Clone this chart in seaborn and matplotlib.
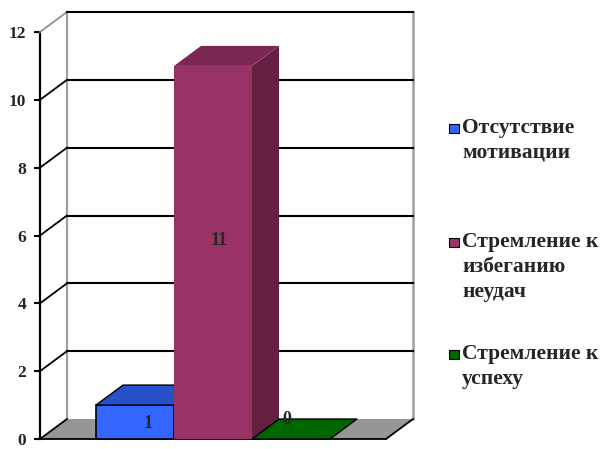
import matplotlib
matplotlib.use("Agg")
import matplotlib.pyplot as plt
from matplotlib.patches import Polygon, Rectangle
from matplotlib.lines import Line2D
import seaborn as sns
import pandas as pd
import numpy as np

# ---- data -------------------------------------------------------------
series = ["Отсутствие\nмотивации",
          "Стремление к\nизбеганию\nнеудач",
          "Стремление к\nуспеху"]
values = [1, 11, 0]
value_labels = ["1", "11", "0"]
front_colors = ["#3366FF", "#993366", "#006600"]
top_colors = ["#2850C8", "#7A2852", "#006600"]
side_colors = ["#1F3FA0", "#66203F", "#004400"]
y_ticks = [0, 2, 4, 6, 8, 10, 12]

# ---- layout -----------------------------------------------------------
W, H, DPI = 600, 449, 100
DEPTH = (27, 20)            # depth offset of the 3-D box, pixels
FONT = ["Liberation Serif", "DejaVu Serif"]

sns.set_theme(style="white")
plt.rcParams["font.family"] = FONT
plt.rcParams["font.weight"] = "bold"

fig = plt.figure(figsize=(W / DPI, H / DPI), dpi=DPI)
ax = fig.add_axes([40 / W, 10 / H, 346 / W, 407 / H])
ax.patch.set_alpha(0)

df = pd.DataFrame({"grp": [""] * len(series), "series": series, "value": values})
sns.barplot(data=df, x="grp", y="value", hue="series", hue_order=series,
            palette=front_colors, width=0.8, gap=0, dodge=True,
            saturation=1, legend=False, ax=ax, zorder=5)

ax.set_xlim(-0.5915, 0.5915)
ax.set_ylim(0, 12)
ax.set_xlabel("")
ax.set_ylabel("")
ax.set_xticks([])
ax.set_yticks(y_ticks)
ax.set_yticklabels([str(t) for t in y_ticks], fontsize=12.5, fontweight="bold",
                   family=FONT)
ax.tick_params(axis="y", length=4, width=1.5, color="black", pad=6, left=True)
for s in ["top", "right", "bottom"]:
    ax.spines[s].set_visible(False)
ax.spines["left"].set_color("black")
ax.spines["left"].set_linewidth(1.6)
ax.spines["left"].set_zorder(10)

fig.canvas.draw()
dx, dy = DEPTH
T = ax.transData.transform
ident = matplotlib.transforms.IdentityTransform()


def poly(pts, fc, ec="none", lw=1.0, z=1):
    p = Polygon(pts, closed=True, facecolor=fc, edgecolor=ec, linewidth=lw,
                transform=ident, zorder=z, clip_on=False)
    fig.add_artist(p)


def line(xs, ys, color, lw, z):
    fig.add_artist(Line2D(xs, ys, color=color, linewidth=lw, transform=ident,
                          zorder=z, solid_capstyle="projecting"))


x0, x1 = ax.get_xlim()
# floor
fl, fr = T((x0, 0)), T((x1, 0))
poly([fl, fr, fr + (dx, dy), fl + (dx, dy)], "#969696", z=1)

# back wall verticals
bl_bot = T((x0, 0)) + (dx, dy)
bl_top = T((x0, 12)) + (dx, dy)
br_bot = T((x1, 0)) + (dx, dy)
br_top = T((x1, 12)) + (dx, dy)
line([bl_bot[0], bl_top[0]], [bl_bot[1], bl_top[1]], "#A0A0A0", 1.6, 2)
line([br_bot[0], br_top[0]], [br_bot[1], br_top[1]], "#A0A0A0", 1.8, 2)

# gridlines: diagonal on the side wall, horizontal on the back wall
for t in y_ticks:
    a = T((x0, t))
    b = a + (dx, dy)
    c = T((x1, t)) + (dx, dy)
    diag_color = "#909090" if t == 12 else "black"
    line([a[0], b[0]], [a[1], b[1]], diag_color, 1.3, 3)
    if t > 0:
        line([b[0], c[0]], [b[1], c[1]], "black", 1.5, 3)

# floor front edge and right edge
line([fl[0], fr[0]], [fl[1], fr[1]], "black", 1.3, 4)
line([fr[0], fr[0] + dx], [fr[1], fr[1] + dy], "black", 1.3, 4)

# 3-D bars built from the seaborn bar patches
bars = list(ax.patches)
label_offsets = [(13, -1), (6, 12), (-4, 19)]
for i, bar in enumerate(bars):
    bx0, bx1 = bar.get_x(), bar.get_x() + bar.get_width()
    h = bar.get_height()
    if not np.isfinite(h):
        h = 0
    ec = "black" if i != 1 else "none"
    bar.set_visible(False)
    z = 5 + i
    p00, p10 = T((bx0, 0)), T((bx1, 0))
    p0h, p1h = T((bx0, h)), T((bx1, h))
    if h > 0:
        poly([p1h, p10, p10 + (dx, dy), p1h + (dx, dy)], side_colors[i], ec, 1.0, z)
        poly([p00, p10, p1h, p0h], front_colors[i], ec, 1.2, z)
    poly([p0h, p1h, p1h + (dx, dy), p0h + (dx, dy)], top_colors[i], ec, 1.0, z)
    cx = (p00[0] + p10[0]) / 2 + label_offsets[i][0]
    cy = (p00[1] + p0h[1]) / 2 + label_offsets[i][1]
    fig.text(cx / W, cy / H, value_labels[i], ha="center", va="center",
             fontsize=13, fontweight="bold", family=FONT, zorder=20)

# legend
legend_rows = [128, 242, 354]
for i, name in enumerate(series):
    yc = H - legend_rows[i]
    fig.add_artist(Rectangle((449 / W, (yc - 5) / H), 9.5 / W, 9.5 / H,
                             facecolor=front_colors[i], edgecolor="black",
                             linewidth=0.8, transform=fig.transFigure))
    fig.text(462 / W, (yc + 10) / H, name, ha="left", va="top",
             fontsize=15.5, fontweight="bold", family=FONT,
             linespacing=1.32)

fig.savefig("out.png", dpi=DPI)
